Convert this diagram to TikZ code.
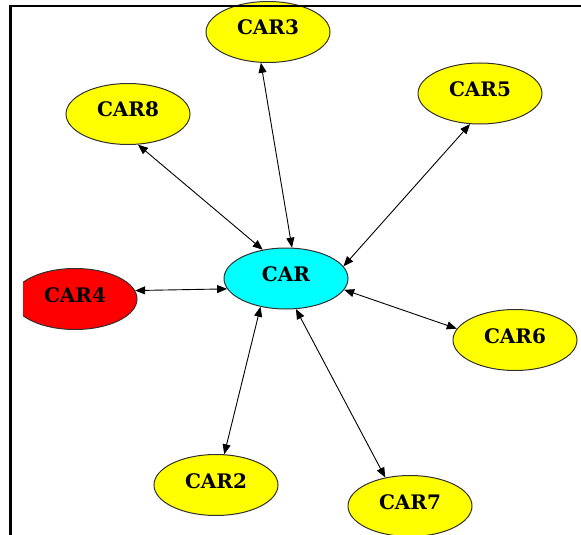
\documentclass[tikz,border=0pt]{standalone}
\usepackage{fontspec}
\newfontfamily\carfont{DejaVu Serif}
\usetikzlibrary{shapes.geometric}
\usetikzlibrary{arrows.meta}
\definecolor{caryellow}{HTML}{FFFF00}
\definecolor{carcyan}{HTML}{00FFFF}
\definecolor{carred}{HTML}{FF0000}
\definecolor{caredge}{HTML}{303030}

\begin{document}
\begin{tikzpicture}[x=1pt,y=1pt,>={Triangle[length=10pt,width=8pt]},
    car/.style={ellipse, draw=caredge, line width=1pt, fill=caryellow,
      minimum width=124pt, minimum height=61pt, inner sep=0pt,
      text height=14pt, text depth=8pt,
      font=\carfont\bfseries\fontsize{20}{20}\selectfont},
    link/.style={<->, line width=0.9pt, black}]

      \useasboundingbox (0,0) rectangle (581,-535);

      % centre
      \node[car, fill=carcyan] (car) at (286,-278.5) {CAR};

      % others
      \node[car] (car3) at (268,-32) {CAR3};
      \node[car] (car8) at (128,-114) {CAR8};
      \node[car] (car5) at (480,-93.5) {CAR5};
      \node[car] (car6) at (515,-340) {CAR6};
      \node[car] (car2) at (216,-485) {CAR2};
      \node[car] (car7) at (410,-506) {CAR7};

      % cut off at the left
      \begin{scope}
        \clip (23,0) rectangle (581,-535);
        \node[car, fill=carred] (car4) at (75,-299) {CAR4};
      \end{scope}

      % links
      \draw[link] (car.79) -- (car3.257);
      \draw[link] (car.129) -- (car8.288);
      \draw[link] (car.12) -- (car5.252);
      \draw[link] (car.190) -- (car4.8);
      \draw[link] (car.349) -- (car6.169);
      \draw[link] (car.228) -- (car2.75);
      \draw[link] (car.288) -- (car7.131);

      % frame
      \draw[line width=2.5pt] (10.5,-535) -- (10.5,-6) -- (581,-6);

\end{tikzpicture}
\end{document}
